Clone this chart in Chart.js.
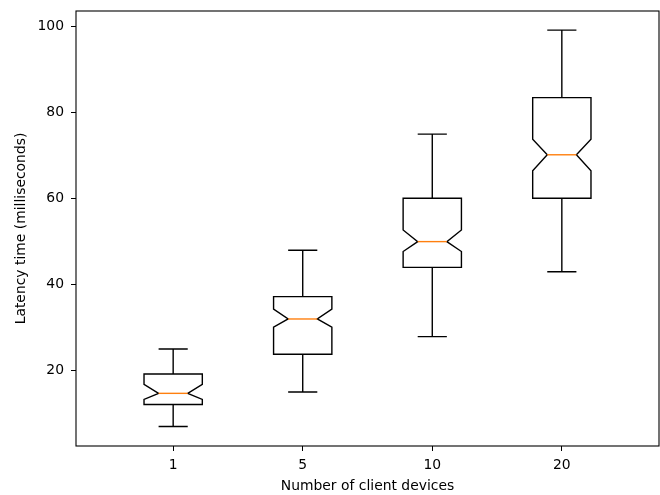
<!DOCTYPE html>
<html>
<head>
<meta charset="utf-8">
<script src="https://cdn.jsdelivr.net/npm/chart.js@4.4.1/dist/chart.umd.min.js"></script>
<style>
  html, body { margin: 0; padding: 0; background: #fff; }
  #wrap { width: 660px; height: 495px; }
</style>
</head>
<body>
<div id="wrap"><canvas id="latency-box"></canvas></div>
<script>
// Values
const categories = ['1', '5', '10', '20'];
const positions = [1, 2, 3, 4];
const whiskerLow = [7.0, 15.0, 27.9, 43.0];
const q1 = [12.1, 23.8, 44.0, 60.1];
const notchLow = [13.3, 30.1, 47.7, 66.5];
const median = [14.7, 32.0, 50.0, 70.2];
const notchHigh = [16.8, 34.3, 52.7, 73.8];
const q3 = [19.2, 37.2, 60.1, 83.5];
const whiskerHigh = [25.0, 48.0, 75.0, 99.2];
const yTicks = [20, 40, 60, 80, 100];

const font = { family: "'DejaVu Sans', sans-serif", size: 13.9 };
const boxWidth = 0.45;

// draws the notched boxes through the chart's own scales
const notchedBoxes = {
  id: 'notchedBoxes',
  afterDatasetsDraw(c) {
    const x = c.scales.x;
    const y = c.scales.y;
    const ctx = c.ctx;
    ctx.save();
    ctx.lineJoin = 'miter';
    positions.forEach((p, i) => {
      const l = x.getPixelForValue(p - boxWidth / 2);
      const r = x.getPixelForValue(p + boxWidth / 2);
      const il = x.getPixelForValue(p - boxWidth / 4);
      const ir = x.getPixelForValue(p + boxWidth / 4);
      const cx = x.getPixelForValue(p);
      // whiskers + caps
      ctx.strokeStyle = '#000';
      ctx.lineWidth = 1.4;
      ctx.beginPath();
      ctx.moveTo(cx, y.getPixelForValue(q1[i]));
      ctx.lineTo(cx, y.getPixelForValue(whiskerLow[i]));
      ctx.moveTo(cx, y.getPixelForValue(q3[i]));
      ctx.lineTo(cx, y.getPixelForValue(whiskerHigh[i]));
      ctx.moveTo(il, y.getPixelForValue(whiskerLow[i]));
      ctx.lineTo(ir, y.getPixelForValue(whiskerLow[i]));
      ctx.moveTo(il, y.getPixelForValue(whiskerHigh[i]));
      ctx.lineTo(ir, y.getPixelForValue(whiskerHigh[i]));
      ctx.stroke();
      // notched box
      ctx.fillStyle = '#fff';
      ctx.beginPath();
      ctx.moveTo(l, y.getPixelForValue(q1[i]));
      ctx.lineTo(r, y.getPixelForValue(q1[i]));
      ctx.lineTo(r, y.getPixelForValue(notchLow[i]));
      ctx.lineTo(ir, y.getPixelForValue(median[i]));
      ctx.lineTo(r, y.getPixelForValue(notchHigh[i]));
      ctx.lineTo(r, y.getPixelForValue(q3[i]));
      ctx.lineTo(l, y.getPixelForValue(q3[i]));
      ctx.lineTo(l, y.getPixelForValue(notchHigh[i]));
      ctx.lineTo(il, y.getPixelForValue(median[i]));
      ctx.lineTo(l, y.getPixelForValue(notchLow[i]));
      ctx.closePath();
      ctx.fill();
      ctx.stroke();
      // median
      ctx.strokeStyle = '#ff7f0e';
      ctx.beginPath();
      ctx.moveTo(il, y.getPixelForValue(median[i]));
      ctx.lineTo(ir, y.getPixelForValue(median[i]));
      ctx.stroke();
    });
    // axes frame
    const a = c.chartArea;
    ctx.strokeStyle = '#000';
    ctx.lineWidth = 1.1;
    ctx.strokeRect(a.left, a.top, a.right - a.left, a.bottom - a.top);
    ctx.restore();
  },
};

new Chart(document.getElementById('latency-box'), {
  type: 'scatter',
  data: {
    datasets: [{
      label: 'Latency',
      data: positions.map((p, i) => ({ x: p, y: median[i] })),
      pointRadius: 0,
      showLine: false,
    }],
  },
  options: {
    responsive: true,
    maintainAspectRatio: false,
    animation: false,
    devicePixelRatio: 1,
    layout: { padding: { top: 11, right: 1, left: 0, bottom: 0 } },
    plugins: { legend: { display: false }, tooltip: { enabled: false } },
    scales: {
      x: {
        type: 'linear',
        min: 0.25,
        max: 4.75,
        afterBuildTicks: (s) => { s.ticks = positions.map((v) => ({ value: v })); },
        afterFit: (s) => { s.height = 49; s.paddingLeft = 0; s.paddingRight = 0; },
        border: { display: false },
        grid: { drawOnChartArea: false, drawTicks: true, tickLength: 5, color: '#000' },
        ticks: {
          color: '#000', font, padding: 6, maxRotation: 0,
          callback: (v) => categories[positions.indexOf(v)],
        },
        title: { display: true, text: 'Number of client devices', color: '#000', font, padding: { top: 0, bottom: 0 } },
      },
      y: {
        min: 2.45,
        max: 103.65,
        afterBuildTicks: (s) => { s.ticks = yTicks.map((v) => ({ value: v })); },
        afterFit: (s) => { s.width = 76; s.paddingTop = 0; s.paddingBottom = 0; },
        border: { display: false },
        grid: { drawOnChartArea: false, drawTicks: true, tickLength: 5, color: '#000' },
        ticks: { color: '#000', font, padding: 7 },
        title: { display: true, text: 'Latency time (milliseconds)', color: '#000', font, padding: { top: 13, bottom: 0 } },
      },
    },
  },
  plugins: [notchedBoxes],
});
</script>
</body>
</html>
